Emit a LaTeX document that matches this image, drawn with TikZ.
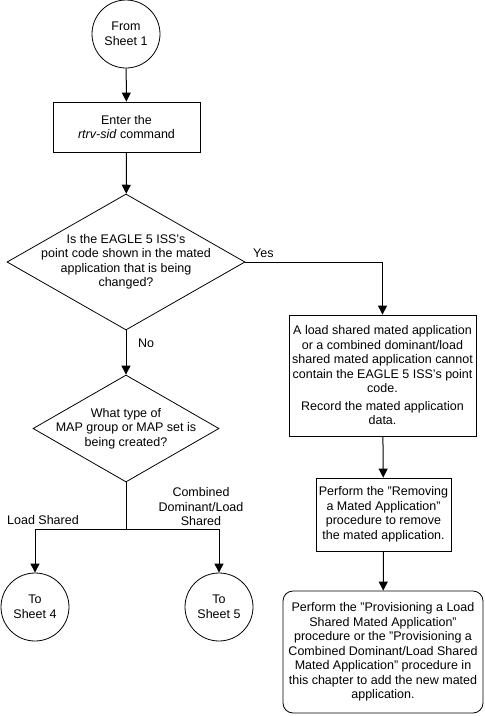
\documentclass[tikz,border=0pt]{standalone}
\usepackage{fontspec}
\setmainfont{Liberation Sans}
\usetikzlibrary{arrows.meta,shapes.geometric}
\begin{document}
\begin{tikzpicture}[x=1pt,y=-1pt,
  every node/.style={font=\fontsize{12.5}{14.5}\selectfont},
  conn/.style={draw, line width=1pt, -{Triangle[length=9pt,width=9pt]}},
  plainline/.style={draw, line width=1pt},
  term/.style={circle, draw, line width=0.8pt, minimum size=68pt, inner sep=0pt, align=center},
  procbox/.style={rectangle, draw, line width=0.8pt, inner sep=0pt, align=center},
  decision/.style={diamond, draw, line width=0.8pt, inner sep=0pt},
  lbl/.style={inner sep=0pt, align=center}
]
\useasboundingbox[fill=white] (0,0) rectangle (485,716);

\node[term] (s1) at (126,34) {From\\Sheet 1};
\node[procbox, minimum width=147pt, minimum height=50pt] (r1) at (126.5,127) {Enter the\\\textit{rtrv-sid} command};
\node[decision, minimum width=238pt, minimum height=136pt] (d1) at (126,262) {};
\node[lbl] (d1t) at (126,262) {Is the EAGLE 5 ISS's\\point code shown in the mated\\application that is being\\changed?};
\node[decision, minimum width=186pt, minimum height=107pt] (d2) at (126,428.5) {};
\node[lbl] (d2t) at (126,428.5) {What type of\\MAP group or MAP set is\\being created?};
\coordinate (j) at (126,529);
\node[term] (s4) at (35,607) {To\\Sheet 4};
\node[term] (s5) at (219,607) {To\\Sheet 5};

\node[procbox, minimum width=187pt, minimum height=121pt] (b1) at (382.5,375.5) {A load shared mated application\\or a combined dominant/load\\shared mated application cannot\\contain the EAGLE 5 ISS's point\\code.\\[3pt]Record the mated application\\data.};
\node[procbox, minimum width=135pt, minimum height=73pt] (b2) at (383.5,514.5) {Perform the "Removing\\a Mated Application"\\procedure to remove\\the mated application.};
\node[procbox, rounded corners=10pt, minimum width=200pt, minimum height=122pt] (b3) at (383,652) {Perform the "Provisioning a Load\\Shared Mated Application"\\procedure or the "Provisioning a\\Combined Dominant/Load Shared\\Mated Application" procedure in\\this chapter to add the new mated\\application.};

\node[lbl, anchor=west] (yes) at (253,253) {Yes};
\node[lbl, anchor=west] (no) at (138,343) {No};
\node[lbl, anchor=west] (ls) at (7,520) {Load Shared};
\node[lbl] (cd) at (201,507) {Combined\\Dominant/Load\\Shared};

\draw[conn] (s1) -- (r1);
\draw[conn] (r1) -- (d1);
\draw[conn] (d1.south) -- (d2.north);
\draw[conn] (d1.east) -| (b1.north);
\draw[plainline] (d2.south) -- (j);
\draw[conn] (j) -| (s4.north);
\draw[conn] (j) -| (s5.north);
\draw[conn] (b1) -- (b2);
\draw[conn] (b2) -- (b3);
\end{tikzpicture}
\end{document}
